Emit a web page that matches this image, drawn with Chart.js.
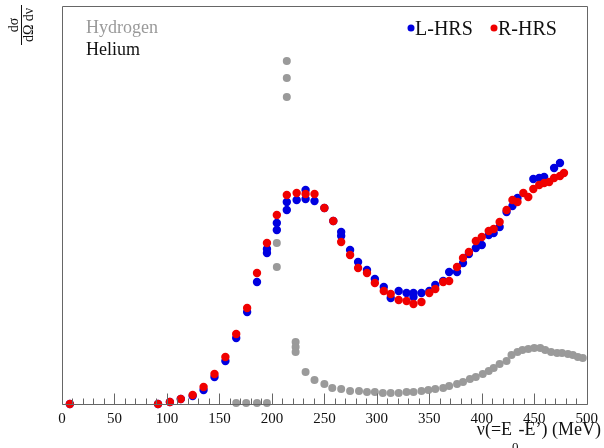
<!doctype html>
<html>
  <head>
    <title>Helium / Hydrogen inclusive cross section</title>
    <script src="https://cdn.jsdelivr.net/npm/chart.js@4"></script>
    <style>
      body { margin: 0; background: #fff; }
      #wrap { width: 604px; height: 448px; }
    </style>
  </head>

  <body>
    <div id="wrap"><canvas id="xsChart" width="604" height="448"></canvas></div>

    <script>
      // energy transfer nu (MeV) and cross section (arbitrary units)
      var rhrsNu = [7.5, 91.5, 102.8, 113.2, 124.5, 134.9, 145.3, 155.7, 166, 176.4, 185.8, 195.3, 204.7, 214.2,
        223.6, 232.1, 240.6, 250, 258.5, 266, 274.5, 282.1, 290.6, 298.1, 306.6, 313.2, 320.8, 328.3, 334.9,
        342.5, 350, 355.7, 363.2, 368.9, 376.4, 382.1, 387.7, 394.3, 400, 406.6, 411.3, 417, 423.6, 429.2,
        434, 439.6, 444.3, 449.1, 454.7, 459.4, 464.2, 468.9, 474.5, 478.3];
      var rhrsXs = [0, 0, 2, 5, 9, 17, 30, 47, 70, 96, 131, 161, 189, 209,
        211, 210, 210, 196, 183, 162, 149, 136, 131, 121, 113, 110, 104, 103, 100,
        102, 111, 115, 122, 123, 137, 146, 152, 163, 167, 173, 175, 182, 194, 204,
        202, 211, 207, 215, 219, 221, 222, 226, 228, 231];

      var lhrsNu = [7.5, 91.5, 102.8, 113.2, 124.5, 134.9, 145.3, 155.7, 166, 176.4, 185.8, 195.3, 195.3, 204.7,
        204.7, 214.2, 214.2, 223.6, 232.1, 232.1, 240.6, 250, 258.5, 266, 266, 274.5, 282.1, 290.6, 298.1,
        306.6, 313.2, 320.8, 328.3, 334.9, 334.9, 342.5, 350, 355.7, 363.2, 368.9, 376.4, 382.1, 387.7, 394.3,
        400, 406.6, 411.3, 417, 423.6, 429.2, 434, 449.1, 454.7, 459.4, 468.9, 474.5];
      var lhrsXs = [0, 0, 2, 5, 8, 14, 27, 43, 66, 92, 122, 155, 151, 181,
        174, 202, 194, 204, 214, 205, 203, 196, 183, 172, 168, 154, 142, 134, 125,
        117, 106, 113, 111, 111, 107, 111, 113, 119, 123, 132, 132, 141, 150, 156,
        159, 169, 171, 177, 192, 198, 206, 225, 226, 227, 236, 241];

      var hydrogenNu = [166, 175.5, 185.8, 195.3, 204.7, 204.7, 214.2, 214.2, 214.2, 222.6, 222.6, 222.6,
        232.1, 240.6, 250, 257.5, 266, 274.5, 283, 290.6, 298.1, 305.7, 313.2, 320.8, 328.3, 334.9, 342.5,
        349.1, 355.7, 363.2, 368.9, 376.4, 382.1, 388.7, 394.3, 400.9, 406.6, 411.3, 417, 423.6, 428.3, 434,
        438.7, 444.3, 450, 455.7, 460.4, 466, 471.7, 476.4, 482.1, 486.8, 491.5, 496.2];
      var hydrogenXs = [1, 1, 1, 1, 161, 137, 343, 326, 307, 62, 57, 52,
        32, 24, 20, 16, 15, 13, 13, 12, 12, 11, 11, 11, 12, 12, 13,
        14, 15, 16, 18, 20, 22, 25, 27, 30, 33, 36, 40, 43, 49, 52,
        54, 55, 56, 56, 54, 52, 51, 51, 50, 49, 47, 46];

      var xTicksMajor = [0, 50, 100, 150, 200, 250, 300, 350, 400, 450, 500];

      var RED = "#f00000";
      var BLUE = "#0000e0";
      var GREY = "#9a9a9a";
      var SERIF = "Liberation Serif";

      function toPoints(xs, ys) {
        return xs.map(function (x, i) {
          return { x: x, y: ys[i] };
        });
      }

      // frame, inward ticks, axis title, y label and the two text legends
      var decor = {
        id: "decor",
        afterDraw: function (chart) {
          var c = chart.ctx;
          var a = chart.chartArea;
          var xs = chart.scales.x;
          var l = Math.round(a.left) + 0.5, r = Math.round(a.right) + 0.5;
          var t = Math.round(a.top) - 0.5, b = Math.round(a.bottom) + 0.5;
          c.save();
          c.strokeStyle = "#666";
          c.lineWidth = 1;
          c.beginPath();
          c.moveTo(l, b); c.lineTo(l, t); c.lineTo(r, t); c.lineTo(r, b); c.lineTo(l, b);
          c.stroke();

          // ticks every 10 MeV pointing up into the plot
          c.beginPath();
          for (var v = 0; v <= 500; v += 10) {
            var px = Math.round(xs.getPixelForValue(v)) + 0.5;
            var len = v % 50 === 0 ? 11 : 6;
            c.moveTo(px, b);
            c.lineTo(px, b - len);
          }
          c.stroke();

          // x title with subscript, laid out from the right edge
          c.fillStyle = "#111";
          c.textBaseline = "alphabetic";
          var big = "18px '" + SERIF + "'", small = "13px '" + SERIF + "'";
          c.font = big;
          c.textAlign = "right";
          var tail = "-E\u2019) (MeV)";
          var xr = 601;
          c.fillText(tail, xr, 435);
          var xSub = xr - c.measureText(tail).width;
          c.font = small;
          c.fillText("0", xSub, 451);
          var xHead = xSub - c.measureText("0").width;
          c.font = big;
          c.fillText("\u03bd(=E", xHead, 435);

          // y label: d sigma / d Omega d nu, rotated
          c.translate(21, 25);
          c.rotate(-Math.PI / 2);
          c.font = "14px '" + SERIF + "'";
          c.textAlign = "center";
          c.fillText("d\u03c3", 0, -3);
          c.fillText("d\u03a9 d\u03bd", 0, 12);
          c.beginPath();
          c.moveTo(-20, 0.5);
          c.lineTo(20, 0.5);
          c.strokeStyle = "#111";
          c.stroke();
          c.setTransform(1, 0, 0, 1, 0, 0);

          // target legend
          c.textAlign = "left";
          c.font = "18px '" + SERIF + "'";
          c.fillStyle = GREY;
          c.fillText("Hydrogen", 86, 33);
          c.fillStyle = "#111";
          c.fillText("Helium", 86, 55);

          // spectrometer legend
          c.font = "20px '" + SERIF + "'";
          c.fillStyle = BLUE;
          c.beginPath(); c.arc(411, 28, 3.5, 0, 2 * Math.PI); c.fill();
          c.fillStyle = "#111";
          c.fillText("L-HRS", 415, 35);
          c.fillStyle = RED;
          c.beginPath(); c.arc(494, 28, 3.5, 0, 2 * Math.PI); c.fill();
          c.fillStyle = "#111";
          c.fillText("R-HRS", 498, 35);
          c.restore();
        },
      };

      var ctx = document.getElementById("xsChart").getContext("2d");
      var chart = new Chart(ctx, {
        type: "scatter",
        data: {
          datasets: [
            {
              label: "R-HRS",
              data: toPoints(rhrsNu, rhrsXs),
              backgroundColor: RED,
              borderColor: RED,
              pointRadius: 4.2,
              borderWidth: 0,
              clip: false,
              order: 0,
            },
            {
              label: "L-HRS",
              data: toPoints(lhrsNu, lhrsXs),
              backgroundColor: BLUE,
              borderColor: BLUE,
              pointRadius: 4.2,
              borderWidth: 0,
              clip: false,
              order: 1,
            },
            {
              label: "Hydrogen",
              data: toPoints(hydrogenNu, hydrogenXs),
              backgroundColor: GREY,
              borderColor: GREY,
              pointRadius: 4,
              borderWidth: 0,
              clip: false,
              order: 2,
            },
          ],
        },
        options: {
          responsive: false,
          animation: false,
          layout: { padding: { left: 62, right: 13, top: 7, bottom: 0 } },
          plugins: {
            legend: { display: false },
            tooltip: { enabled: false },
          },
          scales: {
            x: {
              type: "linear",
              min: 0,
              max: 500,
              afterBuildTicks: function (scale) {
                scale.ticks = xTicksMajor.map(function (v) {
                  return { value: v };
                });
              },
              ticks: {
                font: { family: "'Liberation Serif', serif", size: 15 },
                color: "#111",
                padding: 6,
                maxRotation: 0,
                autoSkip: false,
              },
              grid: { display: false, drawTicks: false },
              border: { display: false },
              afterFit: function (scale) {
                scale.height = 44;
              },
            },
            y: { display: false, min: 0, max: 397 },
          },
        },
        plugins: [decor],
      });
    </script>
  </body>
</html>
